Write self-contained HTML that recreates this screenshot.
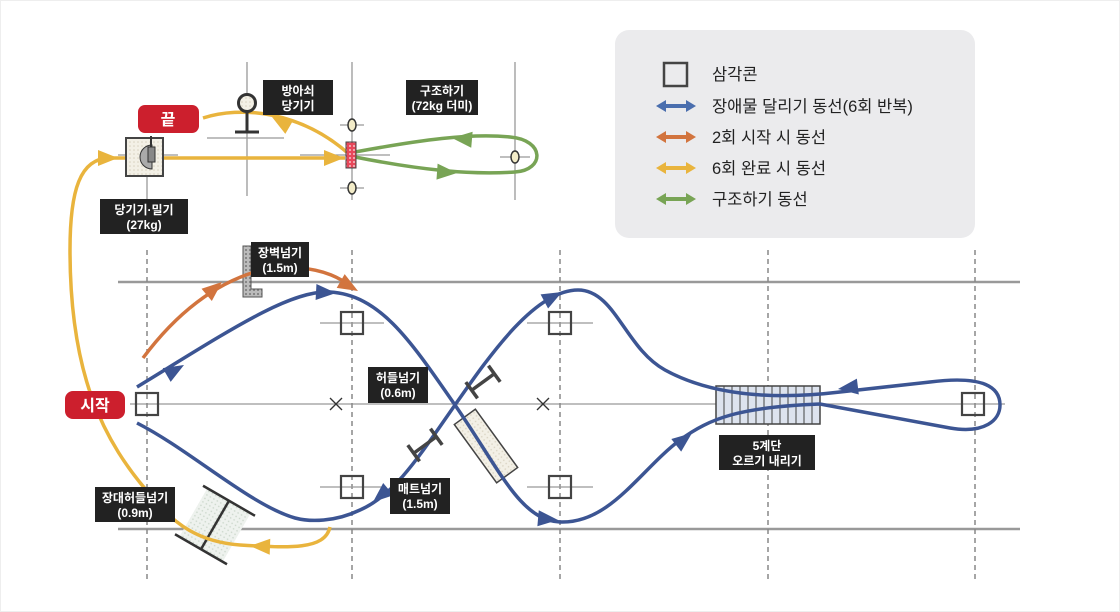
<!DOCTYPE html>
<html><head><meta charset="utf-8">
<style>
html,body{margin:0;padding:0;background:#fff;}
svg{display:block;}
text{font-family:"Liberation Sans","Noto Sans CJK KR",sans-serif;}
.lb{fill:#fff;font-size:12px;font-weight:bold;text-anchor:middle;}
.lg{fill:#222;font-size:16.5px;}
</style></head><body>
<svg width="1120" height="612" viewBox="0 0 1120 612" xmlns="http://www.w3.org/2000/svg">
<defs>
<pattern id="dots" width="4" height="4" patternUnits="userSpaceOnUse"><rect width="4" height="4" fill="#f3f0e6"/><circle cx="2" cy="2" r="0.8" fill="#d8d2c0"/></pattern>
<pattern id="grn" width="4" height="4" patternUnits="userSpaceOnUse"><rect width="4" height="4" fill="#eef2ee"/><circle cx="2" cy="2" r="0.8" fill="#c9d6c9"/></pattern>
<pattern id="red" width="4" height="4" patternUnits="userSpaceOnUse"><rect width="4" height="4" fill="#e8475a"/><circle cx="2" cy="2" r="1" fill="#f5c2c8"/></pattern>
<pattern id="gry" width="4" height="4" patternUnits="userSpaceOnUse"><rect width="4" height="4" fill="#bbb"/><circle cx="2" cy="2" r="1" fill="#777"/></pattern>
</defs>
<rect x="0.5" y="0.5" width="1119" height="611" fill="#fff" stroke="#eee"/>
<!-- legend -->
<rect x="615" y="30" width="360" height="208" rx="14" fill="#ebebed"/>
<rect x="664" y="63" width="23" height="23" fill="none" stroke="#444" stroke-width="2.5"/>
<text class="lg" x="712" y="80">삼각콘</text>
<g>
<polygon points="656,106 666,100 666,104 686,104 686,100 696,106 686,112 686,108 666,108 666,112" fill="#4a6eae"/>
<polygon points="656,137 666,131 666,135 686,135 686,131 696,137 686,143 686,139 666,139 666,143" fill="#d2743e"/>
<polygon points="656,168 666,162 666,166 686,166 686,162 696,168 686,174 686,170 666,170 666,174" fill="#e9b43d"/>
<polygon points="656,199 666,193 666,197 686,197 686,193 696,199 686,205 686,201 666,201 666,205" fill="#78a455"/>
</g>
<text class="lg" x="712" y="112">장애물 달리기 동선(6회 반복)</text>
<text class="lg" x="712" y="143">2회 시작 시 동선</text>
<text class="lg" x="712" y="174">6회 완료 시 동선</text>
<text class="lg" x="712" y="205">구조하기 동선</text>

<!-- top area grid lines -->
<g stroke="#999" stroke-width="1.3">
<line x1="247" y1="62" x2="247" y2="196"/>
<line x1="352" y1="62" x2="352" y2="200"/>
<line x1="515" y1="62" x2="515" y2="200"/>
<line x1="147" y1="140" x2="147" y2="200"/>
<line x1="207" y1="138" x2="284" y2="138"/>
<line x1="300" y1="155" x2="390" y2="155"/>
<line x1="118" y1="155" x2="178" y2="155"/>
<line x1="500" y1="157" x2="530" y2="157"/>
<line x1="340" y1="125" x2="364" y2="125"/>
<line x1="340" y1="188" x2="364" y2="188"/>
</g>
<!-- main grid -->
<g stroke="#999" stroke-width="2.5">
<line x1="118" y1="282" x2="1020" y2="282"/>
<line x1="118" y1="529" x2="1020" y2="529"/>
</g>
<line x1="130" y1="404" x2="1005" y2="404" stroke="#999" stroke-width="1.3"/>
<g stroke="#888" stroke-width="1.5" stroke-dasharray="5,4">
<line x1="147" y1="250" x2="147" y2="582"/>
<line x1="352" y1="250" x2="352" y2="582"/>
<line x1="560" y1="250" x2="560" y2="582"/>
<line x1="768" y1="250" x2="768" y2="582"/>
<line x1="975" y1="250" x2="975" y2="582"/>
</g>
<g stroke="#999" stroke-width="1.3">
<line x1="320" y1="323" x2="384" y2="323"/><line x1="320" y1="487" x2="384" y2="487"/>
<line x1="527" y1="323" x2="593" y2="323"/><line x1="527" y1="487" x2="593" y2="487"/>
</g>
<!-- cones -->
<g fill="none" stroke="#444" stroke-width="2.2">
<rect x="136" y="393" width="22" height="22"/>
<rect x="341" y="312" width="22" height="22"/><rect x="549" y="312" width="22" height="22"/>
<rect x="341" y="476" width="22" height="22"/><rect x="549" y="476" width="22" height="22"/>
<rect x="962" y="393" width="22" height="22"/>
</g>
<g stroke="#333" stroke-width="1.3">
<line x1="330" y1="398" x2="342" y2="410"/><line x1="342" y1="398" x2="330" y2="410"/>
<line x1="537" y1="398" x2="549" y2="410"/><line x1="549" y1="398" x2="537" y2="410"/>
</g>

<!-- stairs -->
<rect x="716" y="386" width="104" height="38" fill="#dde3ee" stroke="#444" stroke-width="1.5"/>
<g stroke="#444" stroke-width="1">
<line x1="724" y1="386" x2="724" y2="424"/><line x1="732" y1="386" x2="732" y2="424"/><line x1="740" y1="386" x2="740" y2="424"/><line x1="748" y1="386" x2="748" y2="424"/><line x1="756" y1="386" x2="756" y2="424"/><line x1="764" y1="386" x2="764" y2="424"/><line x1="772" y1="386" x2="772" y2="424"/><line x1="780" y1="386" x2="780" y2="424"/><line x1="788" y1="386" x2="788" y2="424"/><line x1="796" y1="386" x2="796" y2="424"/><line x1="804" y1="386" x2="804" y2="424"/><line x1="812" y1="386" x2="812" y2="424"/>
</g>
<!-- mat -->
<rect x="-13" y="-36" width="26" height="72" fill="url(#dots)" stroke="#444" stroke-width="1.5" transform="translate(486,446) rotate(-36)"/>
<!-- long hurdle -->
<g transform="translate(215,525) rotate(30)">
<rect x="-25" y="-28" width="50" height="56" fill="url(#grn)"/>
<line x1="-30" y1="-28" x2="30" y2="-28" stroke="#333" stroke-width="2.5"/>
<line x1="-30" y1="28" x2="30" y2="28" stroke="#333" stroke-width="2.5"/>
<line x1="0" y1="-28" x2="0" y2="28" stroke="#333" stroke-width="2.5"/>
</g>
<!-- wall -->
<path d="M243,246 L251,246 L251,289 L262,289 L262,297 L243,297 Z" fill="url(#gry)" stroke="#555" stroke-width="1"/>

<!-- blue path -->
<g fill="none" stroke="#3c5593" stroke-width="3.5">
<path d="M137,387 C 230,330 290,290 330,292 C 380,295 410,340 455,405 C 500,470 520,520 560,522 C 610,524 640,470 680,440 C 710,418 740,407 820,404 L 950,428 C 985,434 1000,420 1000,405 C 1000,388 985,375 930,382 L 840,392 C 790,398 720,400 665,370 C 625,348 615,290 578,290 C 535,290 490,355 455,405 C 420,455 395,495 360,510 C 335,522 310,522 295,518 C 250,505 190,450 137,423"/>
</g>
<g fill="#3c5593">
<polygon points="0,0 -20,-8 -20,8" transform="translate(184,365) rotate(-30)"/>
<polygon points="0,0 -20,-8 -20,8" transform="translate(336,293) rotate(3)"/>
<polygon points="0,0 -20,-8 -20,8" transform="translate(558,520) rotate(5)"/>
<polygon points="0,0 -20,-8 -20,8" transform="translate(692,433) rotate(-38)"/>
<polygon points="0,0 -20,-8 -20,8" transform="translate(838,389) rotate(173)"/>
<polygon points="0,0 -20,-8 -20,8" transform="translate(562,292) rotate(-28)"/>
<polygon points="0,0 -20,-8 -20,8" transform="translate(373,502) rotate(140)"/>
</g>
<!-- hurdles -->
<g stroke="#444" stroke-width="3.5" fill="none">
<g transform="translate(483,382) rotate(-36)"><line x1="-14" y1="-10" x2="-14" y2="10"/><line x1="14" y1="-10" x2="14" y2="10"/><line x1="-14" y1="0" x2="14" y2="0"/></g>
<g transform="translate(425,445) rotate(-36)"><line x1="-14" y1="-10" x2="-14" y2="10"/><line x1="14" y1="-10" x2="14" y2="10"/><line x1="-14" y1="0" x2="14" y2="0"/></g>
</g>

<!-- orange -->
<path d="M143,358 C 175,315 215,282 262,270 M300,268 C 325,270 340,278 352,287" fill="none" stroke="#d2743e" stroke-width="3.5"/>
<g fill="#d2743e">
<polygon points="0,0 -20,-8 -20,8" transform="translate(222,282) rotate(-40)"/>
<polygon points="0,0 -20,-8 -20,8" transform="translate(358,291) rotate(30)"/>
</g>

<!-- yellow -->
<path d="M330,527 C 325,550 290,548 240,545 C 200,542 175,525 155,500 C 100,440 70,370 70,250 C 70,190 80,158 110,158 L 345,158" fill="none" stroke="#e9b43d" stroke-width="3.5"/>
<path d="M203,118 C 240,106 300,110 350,155" fill="none" stroke="#e9b43d" stroke-width="3.5"/>
<g fill="#e9b43d">
<polygon points="0,0 -20,-8 -20,8" transform="translate(250,546) rotate(182)"/>
<polygon points="0,0 -20,-8 -20,8" transform="translate(118,158) rotate(0)"/>
<polygon points="0,0 -20,-8 -20,8" transform="translate(344,158) rotate(0)"/>
<polygon points="0,0 -20,-8 -20,8" transform="translate(272,117) rotate(-150)"/>
</g>
<!-- green -->
<path d="M355,152 C 420,140 470,133 510,137 C 545,140 545,170 515,172 C 470,175 420,170 355,157" fill="none" stroke="#78a455" stroke-width="3.5"/>
<g fill="#78a455">
<polygon points="0,0 -20,-8 -20,8" transform="translate(452,138) rotate(-175)"/>
<polygon points="0,0 -20,-8 -20,8" transform="translate(457,173) rotate(4)"/>
</g>
<!-- dummy -->
<rect x="346" y="142" width="10" height="26" fill="url(#red)" stroke="#444" stroke-width="1"/>
<g fill="#f3ecc8" stroke="#333" stroke-width="1.5">
<ellipse cx="352" cy="125" rx="4" ry="6"/><ellipse cx="352" cy="188" rx="4" ry="6"/><ellipse cx="515" cy="157" rx="4" ry="6"/>
</g>
<!-- trigger -->
<circle cx="247" cy="103" r="8.5" fill="url(#dots)" stroke="#333" stroke-width="3"/>
<line x1="247" y1="111" x2="247" y2="132" stroke="#333" stroke-width="3"/>
<line x1="235" y1="132" x2="259" y2="132" stroke="#333" stroke-width="3"/>
<!-- push box -->
<rect x="126" y="138" width="37" height="38" fill="url(#dots)" stroke="#444" stroke-width="2"/>
<path d="M152,145 A 12 12 0 0 0 152,169 Z" fill="#aaa" stroke="#333" stroke-width="1"/>
<rect x="148" y="147" width="7" height="15" fill="#888" stroke="#333" stroke-width="1"/>
<line x1="151" y1="136" x2="151" y2="147" stroke="#333" stroke-width="2"/>

<!-- red pills -->
<rect x="138" y="105" width="61" height="28" rx="7" fill="#cc1f2d"/>
<text x="168" y="125" fill="#fff" font-size="16" font-weight="bold" text-anchor="middle">끝</text>
<rect x="65" y="391" width="60" height="28" rx="8" fill="#cc1f2d"/>
<text x="95" y="411" fill="#fff" font-size="16" font-weight="bold" text-anchor="middle">시작</text>

<!-- labels -->
<g fill="#222">
<rect x="263" y="80" width="70" height="35"/>
<rect x="406" y="80" width="72" height="35"/>
<rect x="100" y="199" width="88" height="35"/>
<rect x="251" y="242" width="58" height="35"/>
<rect x="368" y="367" width="60" height="36"/>
<rect x="390" y="478" width="60" height="36"/>
<rect x="95" y="487" width="80" height="35"/>
<rect x="719" y="435" width="96" height="35"/>
</g>
<text class="lb" x="298" y="95">방아쇠</text><text class="lb" x="298" y="110">당기기</text>
<text class="lb" x="442" y="95">구조하기</text><text class="lb" x="442" y="110" font-size="11">(72kg 더미)</text>
<text class="lb" x="144" y="214">당기기·밀기</text><text class="lb" x="144" y="229">(27kg)</text>
<text class="lb" x="280" y="257">장벽넘기</text><text class="lb" x="280" y="272">(1.5m)</text>
<text class="lb" x="398" y="382">허들넘기</text><text class="lb" x="398" y="397">(0.6m)</text>
<text class="lb" x="420" y="493">매트넘기</text><text class="lb" x="420" y="508">(1.5m)</text>
<text class="lb" x="135" y="502">장대허들넘기</text><text class="lb" x="135" y="517">(0.9m)</text>
<text class="lb" x="767" y="450">5계단</text><text class="lb" x="767" y="465">오르기 내리기</text>
</svg>
</body></html>
